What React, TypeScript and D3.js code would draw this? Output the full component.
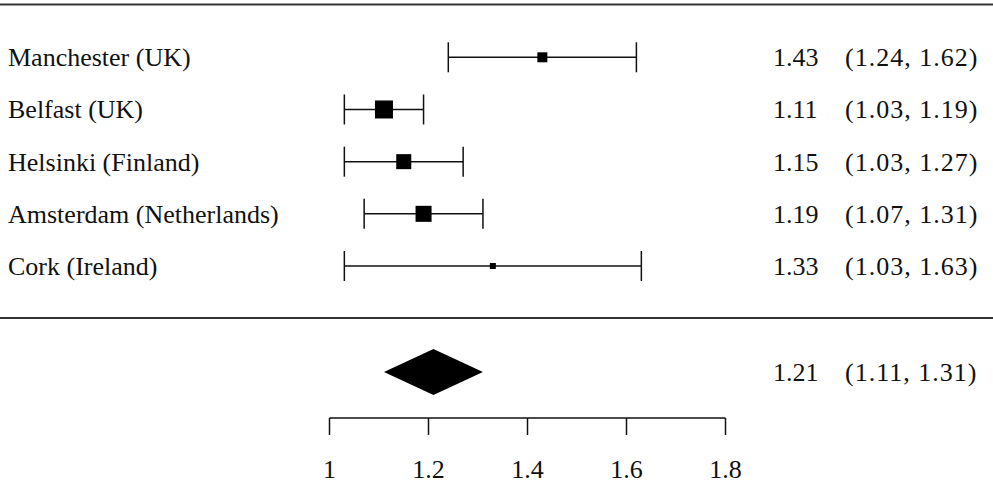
import React from "react";
import * as d3 from "d3";

const studies = ["Manchester (UK)", "Belfast (UK)", "Helsinki (Finland)", "Amsterdam (Netherlands)", "Cork (Ireland)"];
const estimates = [1.43, 1.11, 1.15, 1.19, 1.33];
const lower = [1.24, 1.03, 1.03, 1.07, 1.03];
const upper = [1.62, 1.19, 1.27, 1.31, 1.63];
const weights = [10.6, 34.4, 23.9, 27.2, 3.8];
const pooled = { est: 1.21, lo: 1.11, hi: 1.31 };
const ticks = [1, 1.2, 1.4, 1.6, 1.8];

const W = 993;
const H = 493;
const FONT = "'Liberation Serif', 'Times New Roman', serif";

export default function App() {
  const x = d3.scaleLinear().domain([1, 1.8]).range([329.5, 725.5]);
  const y = d3.scaleLinear().domain([0, 4]).range([57.3, 266]);
  const box = d3.scaleSqrt().domain([0, d3.max(weights) as number]).range([0, 18]);
  const fmt = d3.format(".2f");
  const yPool = 372;
  const axisY = 418;
  const capH = 15;
  const fs = 26;

  const diamond = [
    [x(pooled.lo), yPool],
    [x(pooled.est), yPool - 23],
    [x(pooled.hi), yPool],
    [x(pooled.est), yPool + 23],
  ];

  return (
    <svg width={W} height={H} style={{ position: "absolute", left: 0, top: 0, background: "#fff" }} fontFamily={FONT}>
      <line x1={0} x2={W} y1={4.5} y2={4.5} stroke="#333" strokeWidth={2} />
      <line x1={0} x2={W} y1={318} y2={318} stroke="#333" strokeWidth={2} />
      {studies.map((s, i) => {
        const yy = y(i);
        const b = box(weights[i]);
        return (
          <g key={s}>
            <text x={8} y={yy + 9} fontSize={fs} fill="#111">{s}</text>
            <line x1={x(lower[i])} x2={x(upper[i])} y1={yy} y2={yy} stroke="#111" strokeWidth={1.5} />
            <line x1={x(lower[i])} x2={x(lower[i])} y1={yy - capH} y2={yy + capH} stroke="#111" strokeWidth={1.5} />
            <line x1={x(upper[i])} x2={x(upper[i])} y1={yy - capH} y2={yy + capH} stroke="#111" strokeWidth={1.5} />
            <rect x={x(estimates[i]) - b / 2} y={yy - b / 2} width={b} height={b} fill="#000" />
            <text x={773} y={yy + 9} fontSize={fs} fill="#111">{fmt(estimates[i])}</text>
            <text x={845} y={yy + 9} fontSize={fs} letterSpacing={1} fill="#111">({fmt(lower[i])}, {fmt(upper[i])})</text>
          </g>
        );
      })}
      <polygon points={diamond.map((p) => p.join(",")).join(" ")} fill="#000" />
      <text x={773} y={yPool + 9} fontSize={fs} fill="#111">{fmt(pooled.est)}</text>
      <text x={845} y={yPool + 9} fontSize={fs} letterSpacing={1} fill="#111">({fmt(pooled.lo)}, {fmt(pooled.hi)})</text>
      <line x1={x(1)} x2={x(1.8)} y1={axisY} y2={axisY} stroke="#111" strokeWidth={1.5} />
      {ticks.map((t) => (
        <g key={t}>
          <line x1={x(t)} x2={x(t)} y1={axisY} y2={axisY + 17} stroke="#111" strokeWidth={1.5} />
          <text x={x(t)} y={478} fontSize={fs} textAnchor="middle" fill="#111">{String(t)}</text>
        </g>
      ))}
    </svg>
  );
}
